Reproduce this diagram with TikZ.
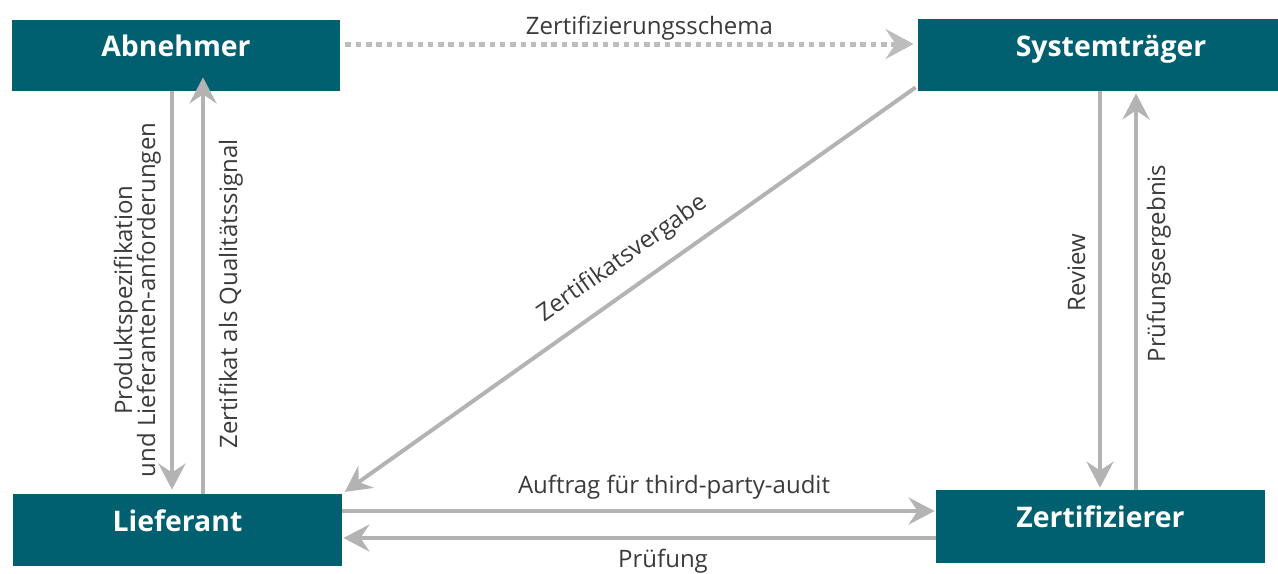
\documentclass[tikz,border=0pt]{standalone}
\usepackage{fontspec}
\setmainfont{Open Sans}
\usetikzlibrary{arrows.meta,calc}
\definecolor{boxteal}{HTML}{00606F}
\definecolor{arrgray}{HTML}{B3B3B3}
\definecolor{dotgray}{HTML}{BDBDBD}
\definecolor{labelgray}{HTML}{3A3A3A}
\begin{document}
\begin{tikzpicture}[x=0.5pt,y=-0.5pt,
  box/.style={fill=boxteal, text=white, inner sep=0pt,
    font=\bfseries\fontsize{14.2pt}{16pt}\selectfont,
    text height=10.5pt, text depth=9.5pt},
  arr/.style={draw=arrgray, line width=2pt,
    -{Stealth[length=13pt, width=13.5pt, inset=4.5pt]}},
  dotarr/.style={draw=dotgray, line width=2.5pt,
    dash pattern=on 2.75pt off 2.4pt,
    -{Stealth[length=14pt, width=15pt, inset=5pt]}},
  lbl/.style={text=labelgray, inner sep=0pt,
    font=\fontsize{12pt}{12.5pt}\selectfont}]
\useasboundingbox (0,0) rectangle (1278,573);
\clip (0,0) rectangle (1278,573);

% actors
\node[box, minimum width=164pt, minimum height=35.5pt] (abn) at (176,55.5) {Abnehmer};
\node[box, minimum width=193pt, minimum height=36pt] (sys) at (1111,55) {Systemträger};
\node[box, minimum width=164.5pt, minimum height=36pt] (lief) at (177.5,530) {Lieferant};
\node[box, minimum width=164.5pt, minimum height=36.5pt] (zert) at (1100.5,526.5) {Zertifizierer};

% flows
\draw[dotarr, shorten >=2pt] ([xshift=2.5pt,yshift=5.75pt]abn.east) -- ([yshift=5.75pt]abn.east -| sys.west);
\draw[arr, shorten >=2pt] ([xshift=-2pt]abn.south) -- ([xshift=-2pt]abn.south |- lief.north);
\draw[arr, shorten >=-7pt] ([xshift=13.5pt]abn.south |- lief.north) -- ([xshift=13.5pt]abn.south);
\draw[arr, shorten >=1pt] ([xshift=-0.25pt]zert.north |- sys.south) -- ([xshift=-0.25pt]zert.north);
\draw[arr, shorten >=1pt] ([xshift=17.75pt]zert.north) -- ([xshift=17.75pt]zert.north |- sys.south);
\draw[arr, shorten >=1.5pt] ([xshift=-1pt,yshift=2pt]sys.south west) -- (lief.north east);
\draw[arr, shorten >=0.5pt] ([yshift=9.5pt]lief.east) -- ([yshift=9.5pt]lief.east -| zert.west);
\draw[arr, shorten >=0.5pt] ([yshift=-4pt]lief.east -| zert.west) -- ([yshift=-4pt]lief.east);

% flow labels
\node[lbl, anchor=base] (l-schema) at (649.5,34) {Zertifizierungsschema};
\node[lbl, rotate=35.2] (l-vergabe) at (623,259) {Zertifikatsvergabe};
\node[lbl, anchor=base] (l-auftrag) at (674,493) {Auftrag für third-party-audit};
\node[lbl, anchor=base] (l-pruef) at (663,567) {Prüfung};
\node[lbl, rotate=90, anchor=base] (l-spec1) at (132,300) {Produktspezifikation};
\node[lbl, rotate=90, anchor=base] (l-spec2) at (155,300) {und Lieferanten-anforderungen};
\node[lbl, rotate=90, anchor=base] (l-signal) at (237,294) {Zertifikat als Qualitätssignal};
\node[lbl, rotate=90, anchor=base] (l-review) at (1085,273) {Review};
\node[lbl, rotate=90, anchor=base] (l-ergebnis) at (1165,263.5) {Prüfungsergebnis};
\end{tikzpicture}
\end{document}
